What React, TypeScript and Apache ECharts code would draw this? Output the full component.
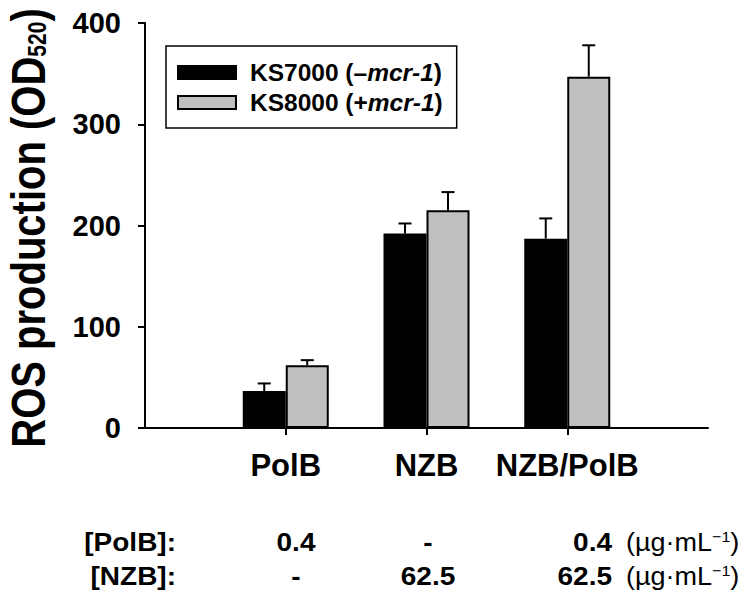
import { useRef, useEffect } from "react";
import * as echarts from "echarts";

const FONT = "Arial, 'Liberation Sans', Helvetica, sans-serif";

// data
const categories = ["", "PolB", "NZB", "NZB/PolB", ""];
const seriesNames = ["KS7000 (–mcr-1)", "KS8000 (+mcr-1)"];
const ks7000 = [null, 36.5, 192, 187, null];
const ks7000Err = [null, 7.5, 10, 20, null];
const ks8000 = [null, 62, 215, 347, null];
const ks8000Err = [null, 5, 18, 31, null];
const yTicks = [0, 100, 200, 300, 400];
const rowLabels = ["[PolB]:", "[NZB]:"];
const polbDose = ["0.4", "-", "0.4"];
const nzbDose = ["-", "62.5", "62.5"];
const unitText = "(µg·mL{sup|−1})";

const BAR_W = 43;

const errSeries = (vals: any[], errs: any[], offset: number) => ({
  type: "custom",
  silent: true,
  z: 3,
  data: vals
    .map((v, i) => (v == null ? null : [i, v, errs[i]]))
    .filter((d) => d !== null),
  renderItem: (params: any, api: any) => {
    const i = api.value(0);
    const v = api.value(1);
    const e = api.value(2);
    const p0 = api.coord([i, v]);
    const p1 = api.coord([i, v + e]);
    const x = p0[0] + offset;
    const st = { stroke: "#000", lineWidth: 2 };
    return {
      type: "group",
      children: [
        { type: "line", shape: { x1: x, y1: p0[1], x2: x, y2: p1[1] }, style: st },
        { type: "line", shape: { x1: x - 6.5, y1: p1[1], x2: x + 6.5, y2: p1[1] }, style: st },
      ],
    };
  },
});

// the dose table under the axis
const colX = [296, 428, 612];
const colAlign = ["center", "center", "right"];
const rowY = [542, 576];

const tableText = (text: string, x: number, y: number, align: string, bold = true, rich?: any) => ({
  type: "text",
  x,
  y,
  scaleY: 0.95,
  style: {
    text,
    fontSize: bold ? 28 : 27,
    fontWeight: bold ? "bold" : "normal",
    fontFamily: FONT,
    fill: "#000",
    align,
    verticalAlign: "middle",
    rich,
  },
});

const App = () => {
  const chartRef = useRef<HTMLDivElement>(null);
  useEffect(() => {
    if (!chartRef.current) return;
    const myChart = echarts.init(chartRef.current, null, { renderer: "svg" });

    const supRich = {
      sup: { fontSize: 16, fontFamily: FONT, fontWeight: "normal", verticalAlign: "top", lineHeight: 16 },
    };
    const graphics: any[] = [
      {
        type: "text",
        x: 28,
        y: 228,
        rotation: Math.PI / 2,
        scaleY: 1.2,
        style: {
          text: "ROS production (OD{s|520})",
          fontSize: 40,
          fontWeight: "bold",
          fontFamily: FONT,
          fill: "#000",
          align: "center",
          verticalAlign: "middle",
          rich: {
            s: { fontSize: 21, fontWeight: "bold", fontFamily: FONT, verticalAlign: "bottom", lineHeight: 21, padding: [0, 0, 2, 0] },
          },
        },
      },
    ];
    [polbDose, nzbDose].forEach((row, r) => {
      graphics.push(tableText(rowLabels[r], 176, rowY[r], "right"));
      row.forEach((t, c) => graphics.push(tableText(t, colX[c], rowY[r], colAlign[c])));
      graphics.push(tableText(unitText, 626, rowY[r], "left", false, supRich));
    });

    const barStyle = (color: string) => ({ color, borderColor: "#000", borderWidth: 2 });

    const option: any = {
      animation: false,
      backgroundColor: "#fff",
      textStyle: { fontFamily: FONT },
      grid: { left: 145, right: 42, top: 23, bottom: 167, containLabel: false },
      legend: {
        orient: "vertical",
        left: 166,
        top: 46,
        data: seriesNames,
        icon: "rect",
        itemWidth: 58,
        itemHeight: 13,
        itemGap: 5,
        padding: [14, 14, 13, 11],
        borderColor: "#000",
        borderWidth: 1.5,
        formatter: (name: string) => name.replace("mcr-1", "{i|mcr-1}"),
        textStyle: {
          fontSize: 24.5,
          fontWeight: "bold",
          fontFamily: FONT,
          color: "#000",
          padding: [0, 0, 0, 9],
          rich: {
            i: { fontSize: 24.5, fontWeight: "bold", fontStyle: "italic", fontFamily: FONT, color: "#000" },
          },
        },
      },
      xAxis: {
        type: "category",
        data: categories,
        boundaryGap: false,
        axisLine: { lineStyle: { color: "#000", width: 2 } },
        axisTick: {
          length: 7,
          interval: (i: number) => i >= 1 && i <= categories.length - 2,
          lineStyle: { color: "#000", width: 2 },
        },
        axisLabel: {
          interval: 0,
          margin: 22,
          fontSize: 31,
          fontWeight: "bold",
          fontFamily: FONT,
          color: "#000",
        },
        splitLine: { show: false },
      },
      yAxis: {
        type: "value",
        min: yTicks[0],
        max: yTicks[yTicks.length - 1],
        interval: yTicks[1] - yTicks[0],
        axisLine: { show: true, lineStyle: { color: "#000", width: 2 } },
        axisTick: { show: true, length: 7, lineStyle: { color: "#000", width: 2 } },
        axisLabel: { margin: 24, fontSize: 29, fontWeight: "bold", fontFamily: FONT, color: "#000" },
        splitLine: { show: false },
      },
      series: [
        {
          name: seriesNames[0],
          type: "bar",
          data: ks7000,
          barWidth: BAR_W,
          barGap: "0%",
          itemStyle: barStyle("#000"),
        },
        {
          name: seriesNames[1],
          type: "bar",
          data: ks8000,
          barWidth: BAR_W,
          barGap: "0%",
          itemStyle: barStyle("#c0c0c0"),
        },
        errSeries(ks7000, ks7000Err, -BAR_W / 2),
        errSeries(ks8000, ks8000Err, BAR_W / 2),
      ],
      graphic: graphics,
    };
    myChart.setOption(option);
    return () => {
      myChart.dispose();
    };
  }, []);

  return (
    <div
      ref={chartRef}
      style={{ position: "fixed", left: 0, top: 0, width: 750, height: 595 }}
    ></div>
  );
};

export default App;
